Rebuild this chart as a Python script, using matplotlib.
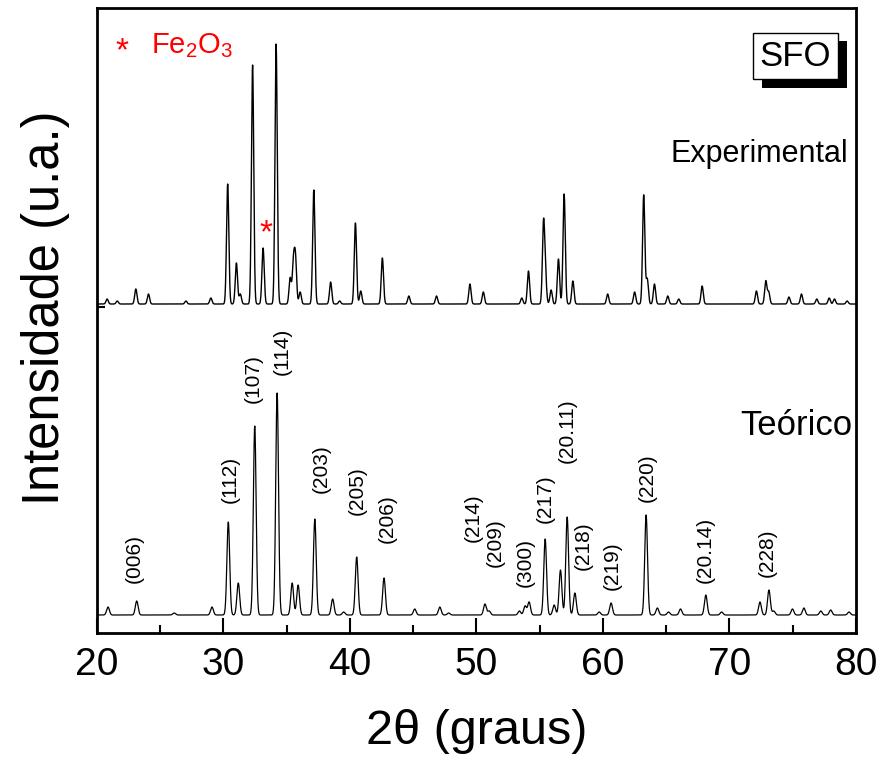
import numpy as np
import matplotlib
matplotlib.use('Agg')
import matplotlib.pyplot as plt
import matplotlib.patheffects as pe

plt.rcParams['font.family'] = ['Liberation Sans', 'DejaVu Sans']
plt.rcParams['mathtext.fontset'] = 'custom'
plt.rcParams['mathtext.rm'] = 'Liberation Sans'
plt.rcParams['mathtext.it'] = 'Liberation Sans:italic'

# Picos experimentais (2theta, altura)
exp_pos = [20.8, 21.6, 23.07, 24.07, 27.03, 29.0, 30.33, 31.02, 31.33, 32.3,
           33.13, 34.16, 35.27, 35.53, 35.69, 36.06, 37.14, 38.47, 39.18,
           40.43, 40.85, 42.56, 44.65, 46.84, 49.48, 50.54, 53.58, 54.11,
           55.3, 55.45, 55.9, 56.48, 56.93, 57.62, 60.37, 62.5, 63.22, 63.5,
           64.07, 65.12, 65.99, 67.84, 72.13, 72.87, 73.1, 74.7, 75.69,
           76.9, 77.88, 78.3, 79.3]
exp_amp = [5, 3, 15, 10, 3, 6, 120, 41, 10, 239,
           56, 260, 26, 40, 44, 12, 114, 22, 3,
           81, 13, 46, 8, 8, 20, 12, 6, 33,
           79, 25, 14, 45, 110, 23, 10, 12, 109, 25,
           20, 8, 5, 18, 13, 23, 12, 7, 10,
           5, 6, 5, 3]
exp_base = 329

# Picos teoricos
teo_pos = [20.87, 23.14, 26.1, 29.09, 30.38, 31.17, 32.47, 34.24, 35.43,
           35.9, 37.22, 38.63, 39.5, 40.53, 42.69, 45.12, 47.1, 47.8, 50.67,
           51.0, 53.39, 53.84, 54.16, 55.43, 56.14, 56.64, 57.17, 57.78, 59.7,
           60.64, 63.41, 64.3, 65.18, 66.13, 68.13, 69.38, 72.41, 73.12,
           73.5, 74.98, 75.88, 77.22, 78.0, 79.45]
teo_amp = [8, 14, 2, 8, 93, 32, 189, 222, 32,
           30, 96, 16, 3, 58, 37, 6, 8, 2, 11,
           4, 4, 9, 13, 76, 10, 45, 98, 22, 3,
           12, 100, 7, 3, 6, 20, 3, 13, 25,
           4, 6, 7, 4, 5, 3]
teo_base = 18

# Indices (hkl) e posicao do rotulo
hkl_text = ['(006)', '(112)', '(107)', '(114)', '(203)', '(205)', '(206)',
            '(214)', '(209)', '(300)', '(217)', '(20.11)', '(218)', '(219)',
            '(220)', '(20.14)', '(228)']
hkl_x = [22.93, 30.54, 32.36, 34.66, 37.75, 40.6, 42.98,
         49.72, 51.47, 53.84, 55.43, 57.17, 58.44, 60.74,
         63.51, 68.11, 73.02]
hkl_y = [50, 130, 230, 258, 140, 118, 90,
         91, 66, 46, 110, 170, 63, 43,
         131, 50, 56]

x = np.arange(20, 80.001, 0.01)


def pattern(pos, amp, base, sigma):
    y = np.full_like(x, base, dtype=float)
    for p, a in zip(pos, amp):
        y += a * np.exp(-0.5 * ((x - p) / sigma) ** 2)
    return y


y_exp = pattern(exp_pos, exp_amp, exp_base, 0.09)
y_teo = pattern(teo_pos, teo_amp, teo_base, 0.11)

fig = plt.figure(figsize=(8.85, 7.57), dpi=100)
ax = fig.add_axes([0.1096, 0.1638, 0.8576, 0.8256])

ax.plot(x, y_exp, color='black', lw=1.0)
ax.plot(x, y_teo, color='black', lw=0.9)

ax.set_xlim(20, 80)
ax.set_ylim(0, 625)

for t, xx, yy in zip(hkl_text, hkl_x, hkl_y):
    ax.text(xx, yy, t, rotation=90, ha='center', va='bottom', fontsize=15)

ax.text(33.39, 391, '*', color='red', fontsize=24, ha='center', va='baseline')
ax.text(21.98, 573, '*', color='red', fontsize=24, ha='center', va='baseline')
ax.text(24.3, 580, r'Fe$_2$O$_3$', color='red', fontsize=21, ha='left',
        va='baseline')

ax.text(79.4, 471, 'Experimental', fontsize=22, ha='right', va='baseline')
ax.text(79.7, 198, 'Teórico', fontsize=25, ha='right', va='baseline')

# caixa SFO com sombra
sfo = ax.text(75.2, 577, 'SFO', fontsize=25, ha='center', va='center', zorder=4,
              bbox=dict(boxstyle='square,pad=0.2', facecolor='white',
                        edgecolor='black', lw=1.0))
sfo.get_bbox_patch().set_path_effects([
    pe.SimplePatchShadow(offset=(6.5, -5.8), shadow_rgbFace='black', alpha=1.0),
    pe.Normal()])

ax.set_xticks([20, 30, 40, 50, 60, 70, 80])
ax.set_xticks([25, 35, 45, 55, 65, 75], minor=True)
ax.set_yticks([326])
ax.set_yticklabels([])
ax.tick_params(axis='x', which='major', direction='in', length=11, width=1.5,
               labelsize=28, pad=10)
ax.tick_params(axis='x', which='minor', direction='in', length=6, width=1.5)
ax.tick_params(axis='y', direction='in', length=6, width=1.5)
for s in ax.spines.values():
    s.set_linewidth(2)

ax.set_xlabel('2θ (graus)', fontsize=35, labelpad=19)
ax.set_ylabel('Intensidade (u.a.)', fontsize=36.5)
ax.yaxis.set_label_coords(-0.036, 0.52)

fig.savefig('out.png', dpi=100)
